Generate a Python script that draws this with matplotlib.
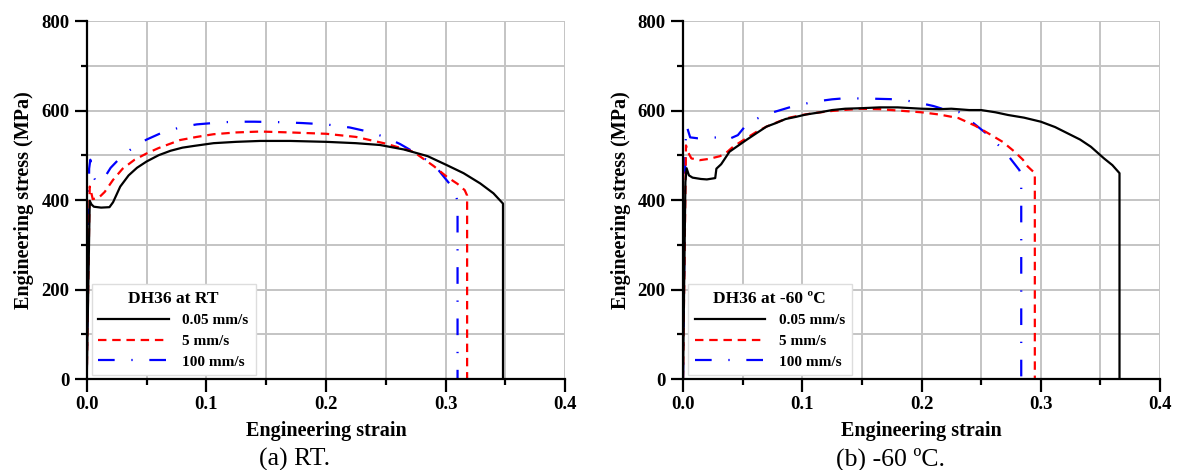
import numpy as np
import matplotlib
matplotlib.use('Agg')
import matplotlib.pyplot as plt
from matplotlib.ticker import MultipleLocator

plt.rcParams['font.family'] = ['Liberation Serif', 'DejaVu Serif']

# (a) RT
rt_005_strain = [0, 0.0025, 0.004, 0.006, 0.012, 0.019, 0.022, 0.028, 0.035, 0.042, 0.050, 0.060,
                 0.070, 0.080, 0.090, 0.106, 0.125, 0.145, 0.170, 0.200, 0.225, 0.245, 0.265, 0.285,
                 0.301, 0.315, 0.329, 0.340, 0.348, 0.348]
rt_005_stress = [0, 398, 390, 385, 383, 384, 395, 430, 455, 472, 486, 500,
                 510, 517, 521, 527, 530, 532, 532, 530, 527, 523, 513, 498,
                 478, 460, 437, 415, 392, 0]
rt_5_strain = [0, 0.0025, 0.0035, 0.005, 0.010, 0.015, 0.022, 0.030, 0.040, 0.050, 0.060, 0.078,
               0.092, 0.106, 0.125, 0.145, 0.170, 0.200, 0.225, 0.250, 0.273, 0.290, 0.301, 0.310,
               0.316, 0.318, 0.318]
rt_5_stress = [0, 430, 420, 402, 405, 418, 445, 470, 490, 504, 516, 534,
               541, 547, 551, 553, 551, 548, 541, 526, 508, 476, 452, 436,
               422, 410, 0]
rt_100_strain = [0, 0.002, 0.003, 0.005, 0.008, 0.012, 0.016, 0.020, 0.030, 0.042, 0.050, 0.065,
                 0.081, 0.092, 0.110, 0.123, 0.140, 0.160, 0.180, 0.200, 0.220, 0.235, 0.249, 0.262,
                 0.273, 0.285, 0.294, 0.304, 0.309, 0.310, 0.310]
rt_100_stress = [0, 470, 490, 455, 440, 443, 455, 472, 500, 523, 535, 553,
                 564, 569, 573, 575, 575, 574, 572, 569, 562, 553, 541, 525,
                 508, 488, 467, 434, 410, 390, 0]

# (b) -60 C
lt_005_strain = [0, 0.002, 0.003, 0.005, 0.008, 0.015, 0.020, 0.027, 0.028, 0.032, 0.039, 0.046,
                 0.053, 0.062, 0.070, 0.078, 0.086, 0.095, 0.103, 0.115, 0.125, 0.136, 0.148, 0.165,
                 0.180, 0.200, 0.215, 0.225, 0.240, 0.250, 0.262, 0.2725, 0.286, 0.300, 0.312, 0.3225,
                 0.333, 0.342, 0.353, 0.360, 0.366, 0.366]
lt_005_stress = [0, 440, 471, 455, 450, 447, 446, 449, 470, 480, 508, 521,
                 534, 550, 564, 572, 581, 586, 591, 596, 601, 604, 605, 607,
                 607, 604, 603, 604, 601, 601, 596, 590, 584, 575, 563, 549,
                 535, 519, 493, 478, 460, 0]
lt_5_strain = [0, 0.0025, 0.004, 0.007, 0.014, 0.022, 0.031, 0.036, 0.042, 0.053, 0.062, 0.070,
               0.080, 0.089, 0.100, 0.109, 0.125, 0.148, 0.165, 0.180, 0.200, 0.215, 0.231, 0.245,
               0.256, 0.268, 0.278, 0.285, 0.289, 0.293, 0.295, 0.295]
lt_5_stress = [0, 522, 508, 493, 489, 492, 498, 505, 519, 538, 553, 564,
               575, 584, 590, 594, 599, 604, 603, 600, 596, 591, 583, 566,
               549, 530, 508, 490, 475, 465, 460, 0]
lt_100_strain = [0, 0.002, 0.003, 0.006, 0.012, 0.020, 0.030, 0.036, 0.040, 0.046, 0.054, 0.063,
                 0.073, 0.083, 0.093, 0.111, 0.125, 0.134, 0.150, 0.165, 0.180, 0.195, 0.210, 0.222,
                 0.231, 0.242, 0.256, 0.270, 0.282, 0.2836, 0.2836]
lt_100_stress = [0, 520, 566, 540, 538, 539, 540, 545, 538, 545, 571, 583,
                 594, 602, 610, 620, 625, 627, 627, 626, 625, 619, 610, 600,
                 597, 575, 545, 508, 467, 455, 0]

labels = ['0.05 mm/s', '5 mm/s', '100 mm/s']
panels = [
    ((rt_005_strain, rt_005_stress), (rt_5_strain, rt_5_stress), (rt_100_strain, rt_100_stress),
     'DH36 at RT', '(a) RT.'),
    ((lt_005_strain, lt_005_stress), (lt_5_strain, lt_5_stress), (lt_100_strain, lt_100_stress),
     'DH36 at -60 \u00baC', '(b) -60 \u00baC.'),
]

fig = plt.figure(figsize=(11.77, 4.70), dpi=100)
ax_pos = [[0.0737, 0.1936, 0.4065, 0.7617], [0.5803, 0.1936, 0.4053, 0.7617]]
caption_x = [0.250, 0.757]

for i, (c1, c2, c3, title, caption) in enumerate(panels):
    ax = fig.add_axes(ax_pos[i])
    ax.plot(c1[0], c1[1], color='black', lw=1.6, label=labels[0], zorder=5)
    ax.plot(c2[0], c2[1], color='red', lw=1.6, dashes=(3.8, 2.6), label=labels[1], zorder=4)
    ax.plot(c3[0], c3[1], color='blue', lw=1.6, dashes=(7.5, 7.5, 0.6, 7.5), label=labels[2], zorder=3)

    ax.set_xlim(0, 0.4)
    ax.set_ylim(0, 800)
    ax.xaxis.set_major_locator(MultipleLocator(0.1))
    ax.xaxis.set_minor_locator(MultipleLocator(0.05))
    ax.yaxis.set_major_locator(MultipleLocator(200))
    ax.yaxis.set_minor_locator(MultipleLocator(100))
    ax.set_xticks([0, 0.1, 0.2, 0.3, 0.4])
    ax.set_xticklabels(['0.0', '0.1', '0.2', '0.3', '0.4'])
    ax.grid(True, which='both', color='#c4c4c4', lw=1.4, zorder=0)
    ax.set_axisbelow(True)
    for s in ['top', 'right']:
        ax.spines[s].set_visible(False)
    for s in ['left', 'bottom']:
        ax.spines[s].set_linewidth(1.6)
        ax.spines[s].set_zorder(6)
    ax.tick_params(which='major', length=9, width=1.6, direction='out', labelsize=13.5, pad=3.5)
    ax.tick_params(which='minor', length=4.5, width=1.6, direction='out')
    for lab in ax.get_xticklabels() + ax.get_yticklabels():
        lab.set_fontweight('bold')

    ax.set_xlabel('Engineering strain', fontsize=14.5, fontweight='bold')
    ax.set_ylabel('Engineering stress (MPa)', fontsize=14.5, fontweight='bold')
    ax.xaxis.set_label_coords(0.5, -0.118)
    ax.yaxis.set_label_coords(-0.11, 0.5)

    leg = ax.legend(loc='lower left', bbox_to_anchor=(0.01, 0.01), borderaxespad=0,
                    title=title, title_fontproperties={'weight': 'bold', 'size': 12.5},
                    prop={'weight': 'bold', 'size': 11},
                    handlelength=4.6, handletextpad=0.9, labelspacing=0.45,
                    fancybox=False, framealpha=1, edgecolor='#dddddd', borderpad=0.45)
    leg.get_frame().set_linewidth(1.0)
    leg.set_zorder(7)

    fig.text(caption_x[i], 0.022, caption, fontsize=18.5, ha='center', va='center')

plt.savefig('out.png', dpi=100)
